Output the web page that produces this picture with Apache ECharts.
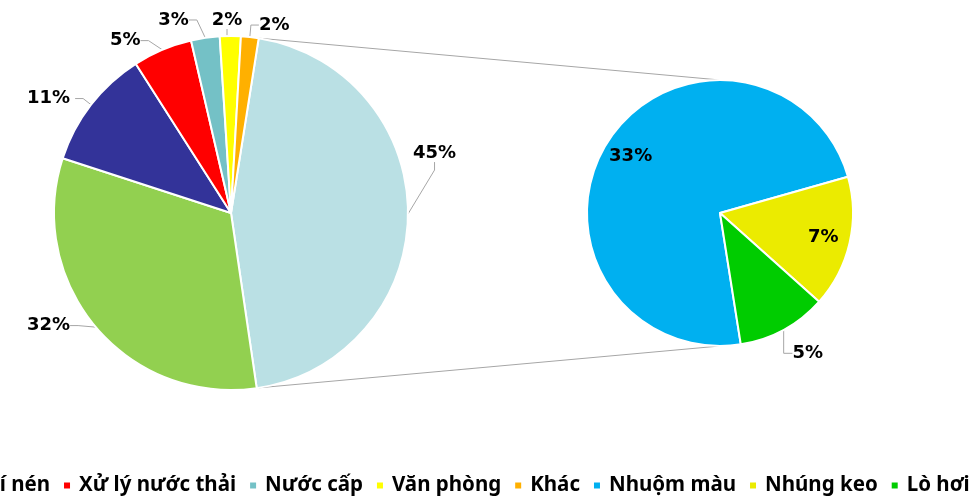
<!DOCTYPE html>
<html>
<head>
	<meta charset="utf-8">
	<script src="https://cdn.jsdelivr.net/npm/echarts@6/dist/echarts.min.js"></script>
</head>
<body style="margin:0;">
	<div id="main" style="width:978px;height:496px;"></div>
</body>
<script type="text/javascript">
// main pie (share of total, %)
var mainNames = ['Máy dệt', 'Khí nén', 'Xử lý nước thải', 'Nước cấp', 'Văn phòng', 'Khác'];
var mainValues = [32.2, 10.9, 5.4, 2.6, 1.9, 1.6];
var mainColors = ['#92D050', '#333399', '#FF0000', '#74C1C6', '#FFFF00', '#FFB000'];
// second pie (split of the grouped slice)
var subNames = ['Nhuộm màu', 'Nhúng keo', 'Lò hơi'];
var subValues = [32.9, 7.2, 4.9];
var subColors = ['#00B0F0', '#EBEB00', '#00CC00'];
var groupName = 'Nhóm khác';
var groupColor = '#BAE0E4';

var groupValue = 0;
for (i = 0; i < subValues.length; i++) groupValue += subValues[i];
var groupSweep = groupValue * 3.6;

var LC = [231, 213], LR = 177;
var RC = [720, 213], RR = 133;

var mainData = [{name: groupName, value: groupValue, itemStyle: {color: groupColor}}];
for (i = 0; i < mainNames.length; i++) {
	mainData.push({name: mainNames[i], value: mainValues[i], itemStyle: {color: mainColors[i]}});
}
var subData = [], subLabelData = [];
for (i = 0; i < subNames.length; i++) {
	subData.push({name: subNames[i], value: subValues[i], itemStyle: {color: subColors[i]},
		label: {show: i == subNames.length - 1}, labelLine: {show: i == subNames.length - 1}});
	subLabelData.push({name: subNames[i], value: subValues[i], label: {show: i < subNames.length - 1}});
}

function pct(p) { return Math.round(p.value) + '%'; }
var labelFont = {fontFamily: 'DejaVu Sans', fontWeight: 'bold', fontSize: 18, color: '#000'};

// nudge a label and let echarts redraw its guide line
function nudge(p, dx, dy) {
	return {x: p.labelRect.x + dx, y: p.labelRect.y + dy, align: 'left', verticalAlign: 'top'};
}
// label nudges, Excel-style placement (by dataIndex)
var mainNudge = {0: [-18, -61], 1: [-5, -8], 3: [-5, 0], 4: [-2, -8], 5: [25, -6], 6: [-5, -2]};
var subNudge = {2: [-12, 13]};

var a0 = groupSweep / 2 * Math.PI / 180;
var topL = [LC[0] + LR * Math.cos(a0), LC[1] - LR * Math.sin(a0)];
var botL = [LC[0] + LR * Math.cos(a0), LC[1] + LR * Math.sin(a0)];

var option = {
	animation: false,
	legend: {
		data: mainNames.concat(subNames),
		left: -161,
		top: 470,
		width: 3000,
		itemWidth: 8,
		itemHeight: 8,
		itemGap: 12,
		icon: 'rect',
		textStyle: {fontFamily: 'Noto Sans', fontWeight: 'bold', fontSize: 20.5, color: '#000', padding: [0, 0, 0, 3]}
	},
	graphic: [
		{type: 'line', silent: true, z: 0, shape: {x1: topL[0], y1: topL[1], x2: RC[0], y2: RC[1] - RR},
			style: {stroke: '#A6A6A6', lineWidth: 1}},
		{type: 'line', silent: true, z: 0, shape: {x1: botL[0], y1: botL[1], x2: RC[0], y2: RC[1] + RR},
			style: {stroke: '#A6A6A6', lineWidth: 1}}
	],
	series: [
		{
			name: 'main',
			type: 'pie',
			center: LC,
			radius: LR,
			startAngle: groupSweep / 2,
			clockwise: true,
			avoidLabelOverlap: false,
			itemStyle: {borderColor: '#fff', borderWidth: 2},
			label: Object.assign({position: 'outside', formatter: pct}, labelFont),
			labelLine: {length: 10, length2: 8, lineStyle: {color: '#A6A6A6', width: 1}},
			labelLayout: function (p) {
				var d = mainNudge[p.dataIndex];
				if (d) return nudge(p, d[0], d[1]);
			},
			data: mainData
		},
		{
			name: 'sub',
			type: 'pie',
			center: RC,
			radius: RR,
			startAngle: -groupSweep / 2,
			clockwise: true,
			itemStyle: {borderColor: '#fff', borderWidth: 2},
			label: Object.assign({position: 'outside', formatter: pct}, labelFont),
			labelLine: {length: 12, length2: 10, lineStyle: {color: '#A6A6A6', width: 1}},
			labelLayout: function (p) {
				var d = subNudge[p.dataIndex];
				if (d) return nudge(p, d[0], d[1]);
			},
			data: subData
		},
		{
			name: 'subLabels',
			type: 'pie',
			center: RC,
			radius: [RR * 0.55, RR],
			startAngle: -groupSweep / 2,
			clockwise: true,
			silent: true,
			itemStyle: {color: 'rgba(0,0,0,0)'},
			label: Object.assign({position: 'inside', formatter: pct}, labelFont),
			labelLine: {show: false},
			data: subLabelData
		}
	]
};
var myChart = echarts.init(document.getElementById('main'));
myChart.setOption(option);
</script>
</html>
